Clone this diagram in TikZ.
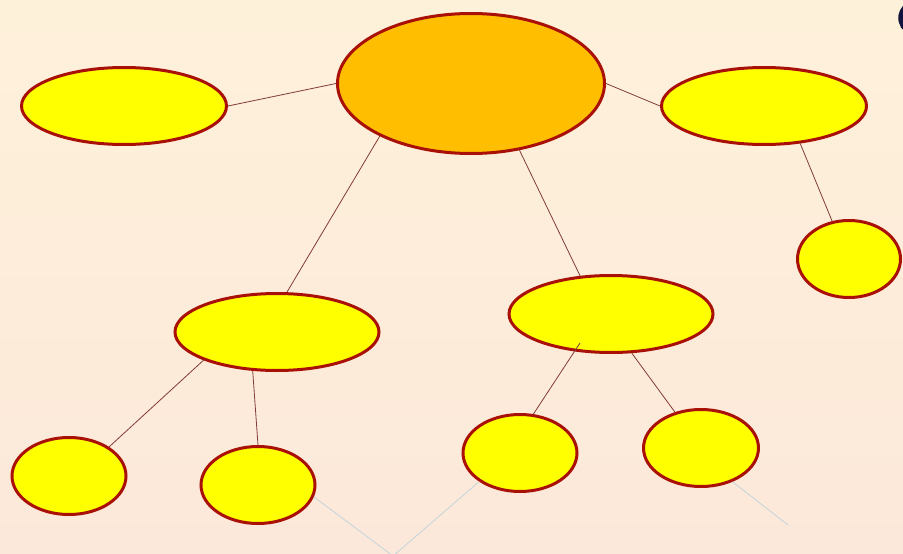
\documentclass[tikz,border=0pt]{standalone}
\usetikzlibrary{shapes.geometric}
\definecolor{bgtop}{RGB}{254,241,218}
\definecolor{bgbot}{RGB}{252,232,218}
\definecolor{rim}{RGB}{168,16,8}
\definecolor{orangefill}{RGB}{255,190,0}
\definecolor{yellowfill}{RGB}{255,255,0}
\definecolor{link}{RGB}{130,60,55}
\definecolor{faint}{RGB}{196,212,218}
\definecolor{navy}{RGB}{18,20,60}
\tikzset{
  bubble/.style={ellipse, draw=rim, line width=3pt, fill=yellowfill, inner sep=0pt},
  hub/.style={bubble, fill=orangefill},
  link/.style={draw=link, line width=0.8pt},
  faintlink/.style={draw=faint, line width=0.8pt}
}
\begin{document}
\begin{tikzpicture}[x=1pt,y=-1pt]
\shade[top color=bgtop, bottom color=bgbot] (0,0) rectangle (903,554);
\useasboundingbox (0,0) rectangle (903,554);
\clip (0,0) rectangle (903,554);
% partial glyph at top right
\draw[navy, line width=5.5pt] (914,18) ++(100:13 and 14) arc[start angle=100, end angle=260, x radius=13, y radius=14];
% nodes
\node[hub, minimum width=267pt, minimum height=140pt] (c) at (471,83.5) {};
\node[bubble, minimum width=205pt, minimum height=77pt] (lt) at (124,106) {};
\node[bubble, minimum width=205pt, minimum height=77pt] (rt) at (764,106) {};
\node[bubble, minimum width=103pt, minimum height=77pt] (fr) at (849,259) {};
\node[bubble, minimum width=204pt, minimum height=77pt] (ml) at (277,332) {};
\node[bubble, minimum width=204pt, minimum height=77pt] (mr) at (611,314) {};
\node[bubble, minimum width=114pt, minimum height=77pt] (bl1) at (69,476) {};
\node[bubble, minimum width=114pt, minimum height=77pt] (bl2) at (258,485) {};
\node[bubble, minimum width=114pt, minimum height=77pt] (bm1) at (520,453) {};
\node[bubble, minimum width=115pt, minimum height=77pt] (bm2) at (701,448) {};
% connectors
\draw[link] (lt.east) -- (c.west);
\draw[link] (c.east) -- (rt.west);
\draw[link] (c.210) -- (ml.76);
\draw[link] (c.306) -- (mr.129);
\draw[link] (rt.314) -- (fr.114);
\draw[link] (ml.201) -- (bl1.36);
\draw[link] (ml.238) -- (bl2.90);
\draw[link] (mr) ++(-31,29) -- (bm1.71);
\draw[link] (mr.298) -- (bm2.126);
% faint lines
\coordinate (v) at (393,556);
\coordinate (e) at (788,525);
\draw[faintlink] (bl2.348) -- (v) -- (bm1.215);
\draw[faintlink] (bm2.313) -- (e);
\end{tikzpicture}
\end{document}
